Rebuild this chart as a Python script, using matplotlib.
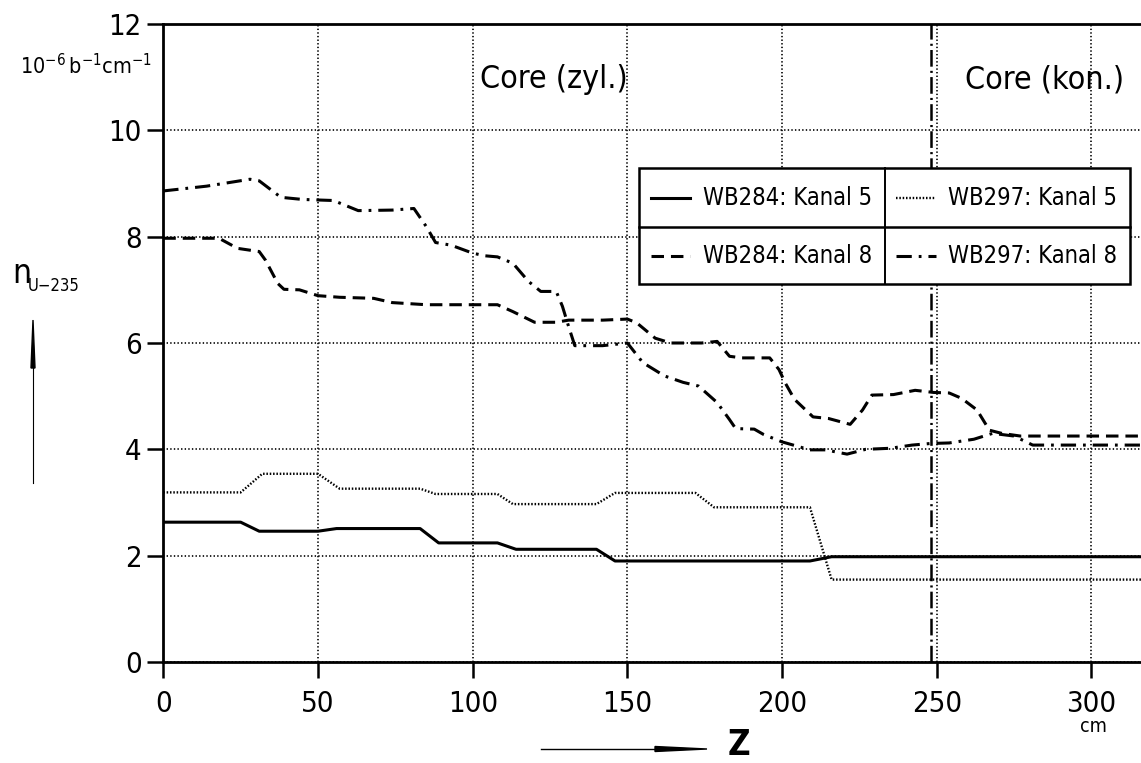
"""
Axial profile of U-235 number density, WB284 vs WB297, channels 5 and 8.
"""
import matplotlib.pyplot as plt
from matplotlib import font_manager
from matplotlib.patches import Rectangle, Polygon
from matplotlib.lines import Line2D

# pick a narrow sans if one is installed, else Liberation Sans
narrow = None
for f in font_manager.fontManager.ttflist:
    if f.style != 'normal' or f.weight not in (400, 'normal', 'regular'):
        continue
    if ('Narrow' in f.name or 'Condensed' in f.name
            or f.stretch in ('condensed', 'semi-condensed')):
        narrow = f
        break

if narrow is not None:
    font_manager.fontManager.addfont(narrow.fname)
    base = narrow.name
    plt.rcParams['font.stretch'] = narrow.stretch
    k = 1.0
else:
    base = 'Liberation Sans'
    k = 0.86

plt.rcParams['font.family'] = [base, 'DejaVu Sans']
plt.rcParams['mathtext.fontset'] = 'custom'
plt.rcParams['mathtext.rm'] = base
plt.rcParams['lines.scale_dashes'] = False

# values (z in cm, n in 1e-6 / b / cm)
z_wb284_k5 = [0, 25, 31, 50, 56, 83, 89, 108, 114, 140, 146, 209, 216, 316]
n_wb284_k5 = [2.63, 2.63, 2.46, 2.46, 2.51, 2.51, 2.24, 2.24, 2.12, 2.12,
              1.90, 1.90, 1.98, 1.98]

z_wb297_k5 = [0, 25, 32, 50, 57, 83, 88, 108, 113, 140, 146, 172, 178, 209,
              216, 316]
n_wb297_k5 = [3.19, 3.19, 3.54, 3.54, 3.26, 3.26, 3.16, 3.16, 2.97, 2.97,
              3.18, 3.18, 2.91, 2.91, 1.55, 1.55]

z_wb284_k8 = [0, 18, 24, 31, 33, 37, 39, 44, 50, 57, 68, 74, 85, 104, 108,
              113, 120, 127, 131, 142, 150, 153, 159, 164, 174, 179, 183, 187,
              196, 199, 201, 204, 210, 215, 222, 226, 229, 236, 243, 249, 254,
              258, 263, 267, 271, 277, 316]
n_wb284_k8 = [7.97, 7.97, 7.78, 7.72, 7.56, 7.12, 7.01, 7.00, 6.89, 6.86,
              6.84, 6.76, 6.72, 6.72, 6.72, 6.59, 6.39, 6.39, 6.43, 6.43,
              6.45, 6.38, 6.09, 6.00, 6.00, 6.03, 5.75, 5.72, 5.72, 5.50,
              5.25, 4.94, 4.61, 4.58, 4.47, 4.74, 5.02, 5.03, 5.11, 5.07,
              5.06, 4.96, 4.74, 4.36, 4.30, 4.25, 4.25]

z_wb297_k8 = [0, 14, 28, 31, 38, 45, 55, 63, 74, 81, 85, 88, 93, 100, 104,
              108, 113, 118, 122, 127, 129, 131, 133, 142, 150, 155, 162, 168,
              173, 179, 183, 185, 191, 194, 200, 209, 214, 221, 227, 235, 242,
              248, 254, 262, 268, 275, 281, 316]
n_wb297_k8 = [8.86, 8.95, 9.08, 9.05, 8.74, 8.70, 8.68, 8.49, 8.50, 8.53,
              8.19, 7.89, 7.84, 7.69, 7.64, 7.62, 7.50, 7.16, 6.97, 6.97,
              6.69, 6.31, 5.95, 5.95, 6.00, 5.63, 5.38, 5.26, 5.19, 4.88,
              4.56, 4.39, 4.38, 4.28, 4.14, 3.99, 3.99, 3.91, 4.00, 4.02,
              4.08, 4.11, 4.12, 4.19, 4.30, 4.25, 4.08, 4.08]

x_ticks = [0, 50, 100, 150, 200, 250, 300]
y_ticks = [0, 2, 4, 6, 8, 10, 12]
z_boundary = 248  # zyl./kon. core boundary

labels = ['WB284: Kanal 5', 'WB297: Kanal 5', 'WB284: Kanal 8', 'WB297: Kanal 8']

W, H = 1141, 763
fig = plt.figure(figsize=(W / 100, H / 100), dpi=100)


def fx(px):
    return px / W


def fy(py):
    return 1 - py / H


ax = fig.add_axes([fx(163.3), fy(662), fx(1141 - 163.3), (662 - 24) / H])
ax.set_xlim(0, 316)
ax.set_ylim(0, 12)
ax.set_xticks(x_ticks)
ax.set_yticks(y_ticks)
ax.tick_params(direction='out', length=11.5, width=1.8, labelsize=21 * k,
               color='black')
ax.tick_params(axis='x', pad=9)
ax.tick_params(axis='y', pad=4)
for side in ['left', 'bottom', 'top']:
    ax.spines[side].set_linewidth(2.0)
ax.spines['right'].set_visible(False)
ax.set_axisbelow(True)
ax.grid(True, color='black', linestyle=(0, (1.0, 1.6)), linewidth=1.2)

styles = {
    'solid': dict(linestyle='-', linewidth=2.2),
    'dotted': dict(linestyle=(0, (1.1, 1.3)), linewidth=1.7),
    'dashed': dict(linestyle=(0, (9, 5)), linewidth=2.2),
    'dashdot': dict(linestyle=(0, (11, 5, 2, 5)), linewidth=2.2),
}

ax.plot(z_wb284_k5, n_wb284_k5, color='black', zorder=3, **styles['solid'])
ax.plot(z_wb297_k5, n_wb297_k5, color='black', zorder=3, **styles['dotted'])
ax.plot(z_wb284_k8, n_wb284_k8, color='black', zorder=3, **styles['dashed'])
ax.plot(z_wb297_k8, n_wb297_k8, color='black', zorder=3, **styles['dashdot'])

ax.axvline(z_boundary, color='black', linewidth=1.8,
           linestyle=(0, (12, 3, 1.5, 3)), zorder=2)

ax.text(102.4, 10.95, 'Core (zyl.)', fontsize=23 * k, va='center', ha='left')
ax.text(259.2, 10.95, 'Core (kon.)', fontsize=23 * k, va='center', ha='left')

# legend drawn as a 2x2 box table
lx0, lx1, lxm = 153.8, 312.5, 233.1
ly0, ly1, lym = 7.11, 9.29, 8.18
ax.add_patch(Rectangle((lx0, ly0), lx1 - lx0, ly1 - ly0, facecolor='white',
                       edgecolor='black', linewidth=1.8, zorder=5))
ax.plot([lx0, lx1], [lym, lym], color='black', lw=1.8, zorder=6)
ax.plot([lxm, lxm], [ly0, ly1], color='black', lw=1.4, zorder=6)
cells = [(lx0, (ly1 + lym) / 2, 'solid'), (lxm, (ly1 + lym) / 2, 'dotted'),
         (lx0, (lym + ly0) / 2, 'dashed'), (lxm, (lym + ly0) / 2, 'dashdot')]
for (cx, cy, st), lab in zip(cells, labels):
    ax.add_line(Line2D([cx + 3.8, cx + 16.5], [cy, cy], color='black',
                       zorder=6, **styles[st]))
    ax.text(cx + 20.5, cy, lab, fontsize=17 * k, va='center', ha='left',
            zorder=6)

# axis annotations in figure pixels
fig.text(fx(20), fy(66), r'$\mathregular{10^{-6}\,b^{-1}cm^{-1}}$',
         fontsize=15.5 * k, va='center', ha='left')
fig.text(fx(12), fy(273), 'n', fontsize=24 * k, va='center', ha='left')
fig.text(fx(28), fy(286), 'U\u2212235', fontsize=12 * k, va='center', ha='left')
fig.add_artist(Line2D([fx(33), fx(33)], [fy(483), fy(366)], color='black',
                      lw=0.8, transform=fig.transFigure))
fig.add_artist(Polygon([(fx(31), fy(368)), (fx(35), fy(368)), (fx(33), fy(320))],
                       closed=True, color='black', transform=fig.transFigure))

fig.add_artist(Line2D([fx(541), fx(660)], [fy(749), fy(749)], color='black',
                      lw=1.0, transform=fig.transFigure))
fig.add_artist(Polygon([(fx(655), fy(746.5)), (fx(655), fy(751.5)), (fx(707), fy(749))],
                       closed=True, color='black', transform=fig.transFigure))
fig.text(fx(739), fy(745), 'Z', fontsize=25 * k, fontweight='bold',
         va='center', ha='center')
fig.text(fx(1093), fy(726), 'cm', fontsize=14 * k, va='center', ha='center')

fig.savefig('out.png', dpi=100)
